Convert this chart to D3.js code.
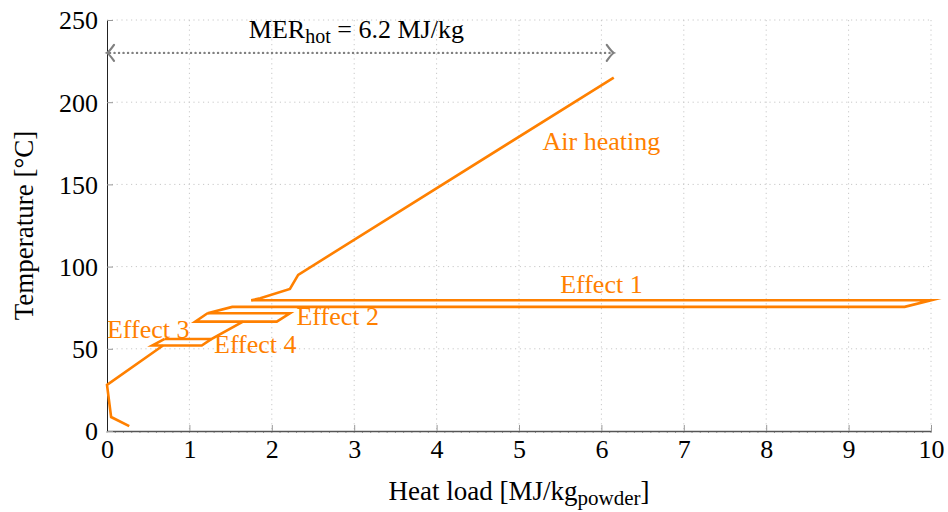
<!DOCTYPE html>
<html>
<head>
<meta charset="utf-8">
<script src="https://cdn.jsdelivr.net/npm/d3@7"></script>
<style>
  body { margin: 0; background: #fff; }
  text { font-family: "Liberation Serif", "Times New Roman", serif; }
</style>
</head>
<body>
<div id="chart"></div>
<script>
// tick values
const xTicks = [0, 1, 2, 3, 4, 5, 6, 7, 8, 9, 10];
const yTicks = [0, 50, 100, 150, 200, 250];

// curve pieces [heat load MJ/kg, temperature °C]
const airHeating = [[6.15, 215], [2.32, 95], [2.22, 86.4], [1.86, 80.7], [1.75, 79.5]];
const effect1 = [[1.75, 79.5], [10, 79.5], [9.68, 75.5], [1.52, 75.5], [1.22, 71.6]];
const effect2 = [[1.22, 71.6], [2.22, 71.6], [2.06, 66.5], [1.07, 66.5], [1.22, 71.6]];
const effect3 = [[1.65, 66.5], [1.27, 56], [0.7, 56]];
const effect4 = [[0.7, 56], [0.55, 52], [1.15, 52], [1.27, 56]];
const pinchTail = [[0.68, 52], [0, 28], [0.05, 8.5], [0.27, 3]];

// labels
const curveLabels = [
    { text: "Air heating", q: 6.0, t: 171 },
    { text: "Effect 1", q: 6.0, t: 84 },
    { text: "Effect 2", q: 2.8, t: 64.5 },
    { text: "Effect 3", q: 0.5, t: 56.5 },
    { text: "Effect 4", q: 1.8, t: 47.5 }
];
const merValue = 6.15;
const merTemp = 230;

const width = 948, height = 512;
const margin = { top: 20, right: 17, bottom: 81, left: 107 };
const innerW = width - margin.left - margin.right;
const innerH = height - margin.top - margin.bottom;
const orange = "#ff8000";
const fs = "26px";
const fsSub = "19px";

const svg = d3.select("#chart").append("svg")
    .attr("width", width)
    .attr("height", height);

const g = svg.append("g")
    .attr("transform", `translate(${margin.left},${margin.top})`);

const x = d3.scaleLinear().domain([0, 10]).range([0, innerW]);
const y = d3.scaleLinear().domain([0, 250]).range([innerH, 0]);

// grid
g.append("g").selectAll("line").data(xTicks.slice(1)).join("line")
    .attr("x1", d => x(d)).attr("x2", d => x(d))
    .attr("y1", 0).attr("y2", innerH)
    .attr("stroke", "#c8c8c8").attr("stroke-width", 1)
    .attr("stroke-dasharray", "1.2,3.6");
g.append("g").selectAll("line").data(yTicks.slice(1)).join("line")
    .attr("x1", 0).attr("x2", innerW)
    .attr("y1", d => y(d)).attr("y2", d => y(d))
    .attr("stroke", "#c8c8c8").attr("stroke-width", 1)
    .attr("stroke-dasharray", "1.2,3.6");

// minor ticks along bottom
g.append("g").selectAll("line").data(d3.range(0, 100.5, 1).map(d => d / 10)).join("line")
    .attr("x1", d => x(d)).attr("x2", d => x(d))
    .attr("y1", innerH).attr("y2", innerH + 2)
    .attr("stroke", "#888").attr("stroke-width", 0.8);

// axes
const xAxis = g.append("g")
    .attr("transform", `translate(0,${innerH})`)
    .call(d3.axisBottom(x).tickValues(xTicks).tickSizeInner(-6).tickSizeOuter(0).tickPadding(7));
const yAxis = g.append("g")
    .call(d3.axisLeft(y).tickValues(yTicks).tickSizeInner(-6).tickSizeOuter(0).tickPadding(9));

xAxis.select(".domain").attr("stroke", "#555").attr("stroke-width", 1.6);
yAxis.select(".domain").attr("stroke", "#222").attr("stroke-width", 1);
[xAxis, yAxis].forEach(a => {
    a.attr("font-family", null).attr("font-size", null);
    a.selectAll(".tick line").attr("stroke", "#999").attr("stroke-width", 1);
    a.selectAll(".tick text")
        .attr("fill", "#000")
        .style("font-size", fs);
});
xAxis.selectAll(".tick text").attr("dy", "0.76em");
yAxis.selectAll(".tick text").attr("dy", "0.34em");

// curves
const line = d3.line().x(d => x(d[0])).y(d => y(d[1]));
[airHeating, effect1, effect2, effect3, effect4, pinchTail].forEach(pts => {
    g.append("path")
        .datum(pts)
        .attr("d", line)
        .attr("fill", "none")
        .attr("stroke", orange)
        .attr("stroke-width", 2.6)
        .attr("stroke-linejoin", "miter")
        .attr("stroke-miterlimit", 10);
});

// curve labels
g.append("g").selectAll("text").data(curveLabels).join("text")
    .attr("x", d => x(d.q))
    .attr("y", d => y(d.t))
    .attr("text-anchor", "middle")
    .attr("fill", orange)
    .style("font-size", fs)
    .text(d => d.text);

// MER arrow
const ay = y(merTemp);
g.append("line")
    .attr("x1", x(0) + 3).attr("x2", x(merValue) - 3)
    .attr("y1", ay).attr("y2", ay)
    .attr("stroke", "#808080").attr("stroke-width", 2.4)
    .attr("stroke-dasharray", "0.1,4.4").attr("stroke-linecap", "round");
[[x(0), 1], [x(merValue), -1]].forEach(([px, dir]) => {
    g.append("path")
        .attr("d", `M${px + dir * 7},${ay - 8} Q${px + dir * 2},${ay - 1} ${px},${ay} Q${px + dir * 2},${ay + 1} ${px + dir * 7},${ay + 8}`)
        .attr("fill", "none")
        .attr("stroke", "#808080")
        .attr("stroke-width", 2.2)
        .attr("stroke-linecap", "round");
});

const mer = g.append("text")
    .attr("x", x(merValue / 2) - 4)
    .attr("y", ay - 15)
    .attr("text-anchor", "middle")
    .attr("fill", "#000")
    .style("font-size", fs);
mer.append("tspan").text("MER");
mer.append("tspan").attr("dy", 5).style("font-size", "20px").text("hot");
mer.append("tspan").attr("dy", -5).text(" = 6.2 MJ/kg");

// axis titles
const xt = svg.append("text")
    .attr("x", margin.left + innerW / 2)
    .attr("y", 500)
    .attr("text-anchor", "middle")
    .attr("fill", "#000")
    .style("font-size", "27px");
xt.append("tspan").text("Heat load [MJ/kg");
xt.append("tspan").attr("dy", 5).style("font-size", "21px").text("powder");
xt.append("tspan").attr("dy", -5).text("]");

svg.append("text")
    .attr("transform", `translate(33,${margin.top + innerH / 2}) rotate(-90)`)
    .attr("text-anchor", "middle")
    .attr("fill", "#000")
    .style("font-size", "27px")
    .text("Temperature [°C]");
</script>
</body>
</html>
